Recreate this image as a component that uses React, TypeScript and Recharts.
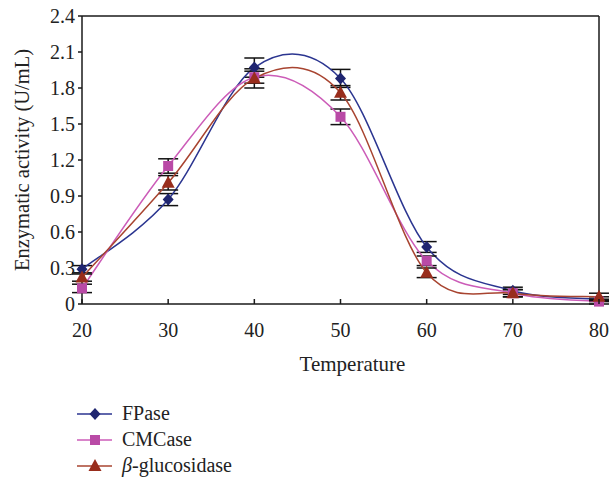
import { LineChart, Line, XAxis, YAxis, ErrorBar, Legend, Label, ReferenceLine } from 'recharts';

const temps = [20, 30, 40, 50, 60, 70, 80];
const fpase = [0.29, 0.87, 1.97, 1.88, 0.475, 0.11, 0.04];
const fpaseErr = [0.03, 0.05, 0.08, 0.075, 0.045, 0.03, 0.02];
const cmcase = [0.13, 1.15, 1.89, 1.56, 0.36, 0.09, 0.02];
const cmcaseErr = [0.035, 0.06, 0.05, 0.065, 0.04, 0.03, 0.02];
const bgluc = [0.22, 1.01, 1.88, 1.76, 0.26, 0.09, 0.06];
const bglucErr = [0.03, 0.06, 0.08, 0.06, 0.04, 0.03, 0.03];
const yTicks = [0, 0.3, 0.6, 0.9, 1.2, 1.5, 1.8, 2.1, 2.4];

const data = temps.map((t, i) => ({
  t,
  fpase: fpase[i], fpaseErr: fpaseErr[i],
  cmcase: cmcase[i], cmcaseErr: cmcaseErr[i],
  bgluc: bgluc[i], bglucErr: bglucErr[i],
}));

const FONT = '"Liberation Serif", "DejaVu Serif", serif';

const C_F = '#2b3590';
const C_F_DOT = '#1f2570';
const C_C = '#cc5cb8';
const C_C_DOT = '#b94aa6';
const C_B = '#a84430';
const C_B_DOT = '#982d1c';
const AXIS = '#1a1a1a';

// Excel-like smoothed line (Catmull-Rom through the points)
function smooth(context: any) {
  let pts: number[][] = [];
  return {
    areaStart() {},
    areaEnd() {},
    lineStart() { pts = []; },
    point(x: number, y: number) { pts.push([+x, +y]); },
    lineEnd() {
      if (!pts.length) return;
      context.moveTo(pts[0][0], pts[0][1]);
      for (let i = 0; i < pts.length - 1; i++) {
        const p0 = pts[i - 1] || pts[i];
        const p1 = pts[i];
        const p2 = pts[i + 1];
        const p3 = pts[i + 2] || p2;
        context.bezierCurveTo(
          p1[0] + (p2[0] - p0[0]) / 6, p1[1] + (p2[1] - p0[1]) / 6,
          p2[0] - (p3[0] - p1[0]) / 6, p2[1] - (p3[1] - p1[1]) / 6,
          p2[0], p2[1]
        );
      }
    },
  };
}

const diamond = (color: string) => (p: any) => (
  <path key={p.key ?? p.index} d={`M${p.cx},${p.cy - 6}L${p.cx + 5.5},${p.cy}L${p.cx},${p.cy + 6}L${p.cx - 5.5},${p.cy}Z`} fill={color} />
);
const square = (color: string) => (p: any) => (
  <rect key={p.key ?? p.index} x={p.cx - 5} y={p.cy - 5} width={10} height={10} fill={color} />
);
const triangle = (color: string) => (p: any) => (
  <path key={p.key ?? p.index} d={`M${p.cx},${p.cy - 7}L${p.cx + 6.5},${p.cy + 5}L${p.cx - 6.5},${p.cy + 5}Z`} fill={color} />
);

const XTick = (p: any) => (
  <g>
    <line x1={p.x} x2={p.x} y1={p.y} y2={p.y - 5} stroke={AXIS} strokeWidth={1.5} />
    <text x={p.x} y={p.y + 33} textAnchor="middle" fontFamily={FONT} fontSize={20} fill="#222">
      {p.payload.value}
    </text>
  </g>
);

const legendItems = [
  { name: 'FPase', line: C_F, dot: C_F_DOT, shape: 'diamond' },
  { name: 'CMCase', line: C_C, dot: C_C_DOT, shape: 'square' },
  { name: 'glucosidase', line: C_B, dot: C_B_DOT, shape: 'triangle' },
];

const LegendBox = () => (
  <svg width={200} height={80}>
    {legendItems.map((it, i) => {
      const y = 12 + i * 26;
      const cx = 18;
      return (
        <g key={it.name}>
          <line x1={0} x2={35} y1={y} y2={y} stroke={it.line} strokeWidth={1.5} />
          {it.shape === 'diamond' && <path d={`M${cx},${y - 6}L${cx + 5.5},${y}L${cx},${y + 6}L${cx - 5.5},${y}Z`} fill={it.dot} />}
          {it.shape === 'square' && <rect x={cx - 5} y={y - 5} width={10} height={10} fill={it.dot} />}
          {it.shape === 'triangle' && <path d={`M${cx},${y - 7}L${cx + 6.5},${y + 5}L${cx - 6.5},${y + 5}Z`} fill={it.dot} />}
          <text x={45} y={y + 6} fontFamily={FONT} fontSize={20} fill="#222">
            {it.shape === 'triangle' ? (<><tspan fontStyle="italic">β</tspan>-glucosidase</>) : it.name}
          </text>
        </g>
      );
    })}
  </svg>
);

export default function App() {
  return (
    <div style={{ position: 'absolute', left: 0, top: 0, width: 611, height: 478, background: '#fff' }}>
      <LineChart width={611} height={478} data={data} margin={{ top: 16, right: 12, left: 0, bottom: 0 }}>
        <ReferenceLine y={2.4} stroke={AXIS} strokeWidth={1.5} />
        <ReferenceLine x={80} stroke={AXIS} strokeWidth={1.5} />
        <XAxis
          dataKey="t"
          type="number"
          domain={[20, 80]}
          ticks={temps}
          tickSize={0}
          tickMargin={0}
          tick={<XTick />}
          height={174}
          stroke={AXIS}
          strokeWidth={1.5}
          interval={0}
        >
          <Label
            content={({ viewBox }: any) => (
              <text x={viewBox.x + viewBox.width / 2 + 12} y={viewBox.y + 67} textAnchor="middle" fontFamily={FONT} fontSize={21} fill="#222">
                Temperature
              </text>
            )}
          />
        </XAxis>
        <YAxis
          type="number"
          domain={[0, 2.4]}
          ticks={yTicks}
          interval={0}
          width={82}
          tickSize={4}
          tickMargin={3}
          stroke={AXIS}
          strokeWidth={1.5}
          tick={{ fontFamily: FONT, fontSize: 20, fill: '#222' }}
        >
          <Label
            content={() => (
              <text x={22} y={160} transform="rotate(-90 22 160)" textAnchor="middle" dominantBaseline="central" fontFamily={FONT} fontSize={20.5} fill="#222">
                Enzymatic activity (U/mL)
              </text>
            )}
          />
        </YAxis>
        <Line dataKey="fpase" type={smooth as any} stroke={C_F} strokeWidth={1.5} dot={diamond(C_F_DOT)} activeDot={false} isAnimationActive={false}>
          <ErrorBar dataKey="fpaseErr" width={10} stroke="#111" strokeWidth={1.5} />
        </Line>
        <Line dataKey="cmcase" type={smooth as any} stroke={C_C} strokeWidth={1.5} dot={square(C_C_DOT)} activeDot={false} isAnimationActive={false}>
          <ErrorBar dataKey="cmcaseErr" width={10} stroke="#111" strokeWidth={1.5} />
        </Line>
        <Line dataKey="bgluc" type={smooth as any} stroke={C_B} strokeWidth={1.5} dot={triangle(C_B_DOT)} activeDot={false} isAnimationActive={false}>
          <ErrorBar dataKey="bglucErr" width={10} stroke="#111" strokeWidth={1.5} />
        </Line>
        <Legend
          layout="vertical"
          align="center"
          verticalAlign="middle"
          content={<LegendBox />}
          wrapperStyle={{ position: 'absolute', left: 77, top: 402, width: 200, height: 80 }}
        />
      </LineChart>
    </div>
  );
}
